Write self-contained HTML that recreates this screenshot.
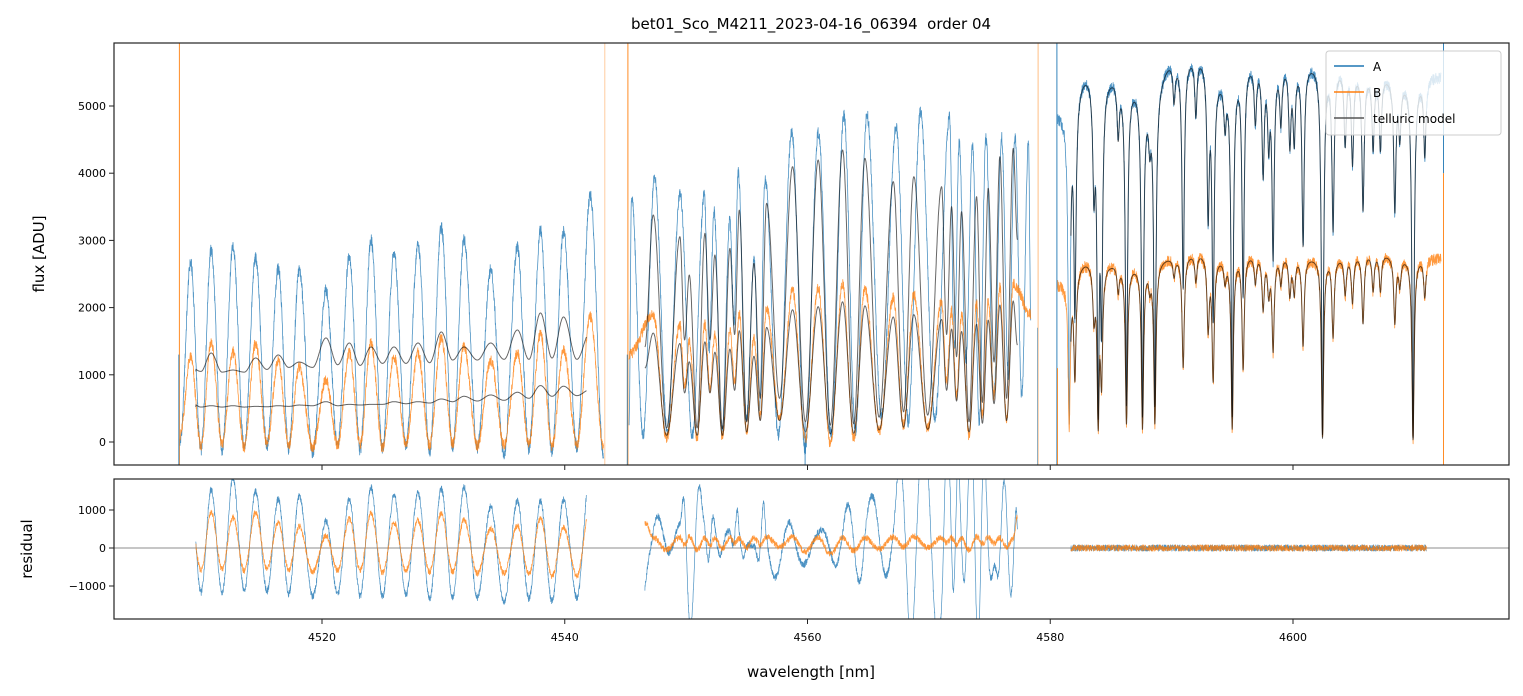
<!DOCTYPE html>
<html><head><meta charset="utf-8"><style>
html,body{margin:0;padding:0;background:#fff;}
svg{display:block;font-family:"DejaVu Sans","Liberation Sans",sans-serif;}
</style></head><body>
<svg id="chart" width="1523" height="696" viewBox="0 0 1523 696" xmlns="http://www.w3.org/2000/svg">
<defs>
<clipPath id="clipMain"><rect x="114" y="43" width="1395" height="422"/></clipPath>
<clipPath id="clipRes"><rect x="114" y="479" width="1395" height="140"/></clipPath>
</defs>
<rect width="1523" height="696" fill="#fff"/>
<text x="811" y="29" font-size="15" text-anchor="middle">bet01_Sco_M4211_2023-04-16_06394&#160; order 04</text>
<g id="mainPlot" clip-path="url(#clipMain)"></g>
<g id="resPlot" clip-path="url(#clipRes)"></g>
<g id="axes"></g>
<text transform="translate(44,254) rotate(-90)" font-size="15" text-anchor="middle">flux [ADU]</text>
<text transform="translate(32,549) rotate(-90)" font-size="15" text-anchor="middle">residual</text>
<text x="811" y="677" font-size="15" text-anchor="middle">wavelength [nm]</text>
<g>
<rect x="1326" y="51" width="175" height="84" rx="3" fill="#fff" fill-opacity="0.8" stroke="#ccc" stroke-width="1"/>
<g><line x1="1334" y1="66" x2="1364" y2="66" stroke="#1f77b4" stroke-width="1.5"/><text x="1373" y="71" font-size="12">A</text></g>
<g><line x1="1334" y1="92" x2="1364" y2="92" stroke="#ff7f0e" stroke-width="1.5"/><text x="1373" y="97" font-size="12">B</text></g>
<g><line x1="1334" y1="118" x2="1364" y2="118" stroke="#555" stroke-width="1.5"/><text x="1373" y="123" font-size="12">telluric model</text></g>
</g>
</svg>
<script>
// ---------- data ----------
const xTicks = [4520,4540,4560,4580,4600];
const yTicksMain = [0,1000,2000,3000,4000,5000];
const yTicksRes = [-1000,0,1000];
const yTickResLabels = ["\u22121000","0","1000"];
// segment 1
const s1Range = [4508.3, 4543.2];
const s1ModelRange = [4509.6, 4541.8];
const s1PeakW = [4509.18,4510.87,4512.66,4514.53,4516.4,4518.12,4520.33,4522.25,4524.04,4525.93,4527.91,4529.83,4531.7,4533.9,4536.1,4538.0,4539.9,4542.1];
const s1APeak = [2664,2857,2902,2738,2589,2560,2262,2783,3006,2813,2932,3199,3006,2560,2902,3155,3125,3676];
const s1ATrough = [0,-120,-150,-80,-60,-100,-160,-60,-120,-100,-50,-150,-100,-80,-200,-100,-150,-80,-200];
const s1BPeak = [1265,1473,1340,1473,1220,1116,923,1324,1473,1265,1324,1562,1414,1220,1324,1622,1369,1860];
const s1BTrough = [100,-60,-40,-80,-20,-60,-90,-50,-40,-80,-20,-50,-40,-60,-50,-30,-60,-50,-100];
const s1HiPeak = [1116,1324,1071,1250,1295,1190,1548,1473,1414,1414,1473,1637,1414,1473,1667,1920,1860,1637];
const s1HiTrough = [1050,1050,1040,1040,1080,1110,1110,1150,1140,1170,1170,1180,1220,1220,1230,1230,1250,1230,1300];
const s1LoPeak = [590,540,540,530,540,550,600,560,560,600,600,640,680,700,740,840,830,780,760];
const s1LoTrough = [520,520,520,520,525,530,540,540,550,560,570,580,600,610,620,650,680,690,700];
// segment 2
const s2Range = [4545.3, 4578.4];
const s2ModelRange = [4546.6, 4577.3];
const s2APeakW = [4545.5,4547.4,4549.5,4551.5,4552.3,4553.6,4554.3,4555.6,4556.5,4558.7,4560.9,4563.0,4564.9,4567.3,4569.3,4571.7,4572.5,4573.6,4574.7,4576.0,4577.1,4578.2];
const s2APeak = [3646,3943,3705,3676,3452,3304,4018,2708,3929,4613,4613,4866,4866,4688,4911,4836,4449,4390,4524,4524,4568,4449];
const s2ATrough = [300,100,150,100,1400,150,1800,300,500,100,-100,100,150,400,300,350,1400,1200,300,700,1000,700,1800];
const s2MPeakW = [4547.29,4549.49,4550.26,4551.55,4552.37,4553.61,4554.38,4555.59,4556.63,4558.77,4560.88,4562.89,4564.73,4567.07,4568.76,4571.05,4571.87,4572.69,4573.93,4574.89,4575.85,4576.95];
const s2HiPeak = [3378,3055,2485,3105,2783,2882,3452,2659,3552,4097,4196,4345,4221,3874,3948,3799,3502,3427,3650,3775,4246,4370];
const s2HiTrough = [1414,208,1518,208,1518,200,1600,300,650,650,300,250,270,370,450,400,1600,1270,300,590,1190,650,3006];
const s2LoPeak = [1621,1466,1193,1490,1336,1383,1657,1276,1705,1967,2014,2086,2026,1860,1895,1824,1681,1645,1752,1812,2038,2098];
const s2LoTrough = [1100,100,730,100,730,100,770,150,320,320,150,120,130,180,220,190,770,610,150,280,570,320,1440];
const s2BPeak = [1900,1750,1500,1750,1600,1650,1900,1550,2000,2250,2300,2350,2300,2150,2200,2100,1950,1900,2050,2100,2300,2350];
const s2BTrough = [1300,50,800,50,800,80,900,150,400,350,50,-50,50,150,250,200,900,700,100,400,700,350,1900];
// segment 3
const s3Range = [4580.6, 4612.2];
const s3ModelRange = [4581.7, 4611.0];
const s3ContW = [4580.79,4583.12,4585.05,4587.11,4588.07,4590.12,4592.18,4594.24,4596.44,4599.32,4601.52,4603.86,4606.6,4609.35,4612.1];
const s3ContA = [4900,5540,5490,5370,5220,5710,5790,5450,5690,5670,5670,5600,5500,5400,5450];
const s3ContB = [2370,2720,2690,2650,2690,2770,2840,2760,2820,2800,2770,2770,2840,2760,2740];
const s3LineW = [4581.56,4582.03,4583.95,4584.22,4586.28,4587.6,4588.62,4590.95,4593.01,4593.42,4594.99,4595.89,4597.54,4598.36,4599.74,4600.83,4602.43,4603.3,4605.77,4608.39,4609.89,4610.86,4583.6,4585.6,4588.2,4590.2,4592.0,4594.4,4596.9,4598.0,4599.0,4600.1,4604.3,4604.9,4606.6,4607.2,4608.8];
const s3LineDepth = [0.93,0.63,0.93,0.68,0.9,0.93,0.9,0.6,0.4,0.67,0.93,0.61,0.29,0.51,0.21,0.48,0.98,0.43,0.37,0.36,0.99,0.21,0.3,0.15,0.12,0.1,0.15,0.12,0.15,0.2,0.15,0.2,0.2,0.25,0.2,0.2,0.15];
// edge artifacts (vertical strokes)
const spikeW = [4508.25,4508.2,4543.3,4545.2,4545.15,4559.8,4579.0,4578.95,4580.55,4580.6,4612.4,4612.4];
const spikeFrom = [-400,-400,-400,-400,-400,-400,-400,-400,-400,-400,6000,-400];
const spikeTo = [6000,1300,6000,6000,1300,300,6000,1700,6000,1100,4000,4000];
const spikeSeries = ["B","A","B","B","A","A","B","A","A","B","A","B"];
const spikeAlpha = [0.9,0.8,0.4,0.9,0.8,0.8,0.5,0.5,0.9,0.8,0.9,0.9];
// ---------- scales ----------
const X = w => 322 + (w - 4520) * 12.1375;
const YM = v => 442 - v * 0.0672;
const YR = v => 548 - v * 0.038;
const COL = {A:"#1f77b4", B:"#ff7f0e", M:"#000"};
const NOISE_A = 90, NOISE_B = 80, NOISE_S3 = 85;
function jitter(i, seed){ const s = Math.sin(i*12.9898 + seed*78.233)*43758.5453; return (s - Math.floor(s))*2 - 1; }
function cosInterp(knW, knV, w){
  if (w <= knW[0]) return knV[0];
  for (let i=0;i<knW.length-1;i++){
    if (w <= knW[i+1]){ const t=(w-knW[i])/(knW[i+1]-knW[i]); return knV[i]+(knV[i+1]-knV[i])*(1-Math.cos(Math.PI*t))/2; }
  }
  return knV[knV.length-1];
}
function knots(peakW, peakV, troughV, start, end){
  const kw=[start], kv=[troughV[0]];
  for (let i=0;i<peakW.length;i++){
    kw.push(peakW[i]); kv.push(peakV[i]);
    const nxt = i<peakW.length-1 ? (peakW[i]+peakW[i+1])/2 : end;
    kw.push(nxt); kv.push(troughV[i+1]);
  }
  return [kw, kv];
}
function lineFactor(w){
  let f = 1;
  for (let i=0;i<s3LineW.length;i++){ const d=(w-s3LineW[i])/0.11; f *= 1 - s3LineDepth[i]/(1+d*d); }
  return f;
}
const STEP = 0.015;
const mainG = document.getElementById('mainPlot');
const resG = document.getElementById('resPlot');
const NS = "http://www.w3.org/2000/svg";
function addPath(g, pts, color, alpha, width, name){
  let d = "";
  pts.forEach((p,i)=>{ d += (i?"L":"M") + p[0].toFixed(1) + " " + p[1].toFixed(1); });
  const el = document.createElementNS(NS, "path");
  el.setAttribute("d", d); el.setAttribute("fill","none"); el.setAttribute("stroke", color);
  el.setAttribute("stroke-opacity", alpha); el.setAttribute("stroke-width", width); el.setAttribute("stroke-linejoin","round");
  
  
  g.appendChild(el);
}
function series(range, fn){ const out=[]; let i=0; for (let w=range[0]; w<=range[1]; w+=STEP, i++) out.push([w, fn(w,i)]); return out; }
const s1A = knots(s1PeakW, s1APeak, s1ATrough, s1Range[0], s1Range[1]);
const s1B = knots(s1PeakW, s1BPeak, s1BTrough, s1Range[0], s1Range[1]);
const s1H = knots(s1PeakW, s1HiPeak, s1HiTrough, s1ModelRange[0], s1ModelRange[1]);
const s1L = knots(s1PeakW, s1LoPeak, s1LoTrough, s1ModelRange[0], s1ModelRange[1]);
const s2A = knots(s2APeakW, s2APeak, s2ATrough, s2Range[0], s2Range[1]);
const s2B = knots(s2MPeakW, s2BPeak, s2BTrough, s2Range[0], s2Range[1]);
const s2H = knots(s2MPeakW, s2HiPeak, s2HiTrough, s2ModelRange[0], s2ModelRange[1]);
const s2L = knots(s2MPeakW, s2LoPeak, s2LoTrough, s2ModelRange[0], s2ModelRange[1]);
const segs = [
  {range:s1Range, mr:s1ModelRange, A:w=>cosInterp(s1A[0],s1A[1],w), B:w=>cosInterp(s1B[0],s1B[1],w), MA:w=>cosInterp(s1H[0],s1H[1],w), MB:w=>cosInterp(s1L[0],s1L[1],w), nA:NOISE_A, nB:NOISE_B},
  {range:s2Range, mr:s2ModelRange, A:w=>cosInterp(s2A[0],s2A[1],w), B:w=>cosInterp(s2B[0],s2B[1],w), MA:w=>cosInterp(s2H[0],s2H[1],w), MB:w=>cosInterp(s2L[0],s2L[1],w), nA:NOISE_A, nB:NOISE_B},
  {range:s3Range, mr:s3ModelRange, A:w=>cosInterp(s3ContW,s3ContA,w)*lineFactor(w), B:w=>cosInterp(s3ContW,s3ContB,w)*lineFactor(w), MA:w=>cosInterp(s3ContW,s3ContA,w)*lineFactor(w), MB:w=>cosInterp(s3ContW,s3ContB,w)*lineFactor(w), nA:NOISE_S3, nB:NOISE_S3}
];
segs.forEach((s,k)=>{
  const a = series(s.range,(w,i)=>s.A(w)+s.nA*jitter(i,k*3+1));
  const b = series(s.range,(w,i)=>s.B(w)+s.nB*jitter(i,k*3+2));
  addPath(mainG, a.map(p=>[X(p[0]),YM(p[1])]), COL.A, 0.8, 0.8, 'series-a-seg'+(k+1));
  addPath(mainG, b.map(p=>[X(p[0]),YM(p[1])]), COL.B, 0.8, 0.8, 'series-b-seg'+(k+1));
  const ma = series(s.mr,(w)=>s.MA(w)), mb = series(s.mr,(w)=>s.MB(w));
  addPath(mainG, ma.map(p=>[X(p[0]),YM(p[1])]), COL.M, 0.6, 1, 'telluric-model-a-seg'+(k+1));
  addPath(mainG, mb.map(p=>[X(p[0]),YM(p[1])]), COL.M, 0.6, 1, 'telluric-model-b-seg'+(k+1));
  const off = Math.round((s.mr[0]-s.range[0])/STEP);
  const ra = series(s.mr,(w,i)=>s.A(w)+s.nA*jitter(i+off,k*3+1)-s.MA(w));
  const rb = series(s.mr,(w,i)=>s.B(w)+s.nB*jitter(i+off,k*3+2)-s.MB(w));
  addPath(resG, ra.map(p=>[X(p[0]),YR(p[1])]), COL.A, 0.8, 0.7, 'residual-a-seg'+(k+1));
  addPath(resG, rb.map(p=>[X(p[0]),YR(p[1])]), COL.B, 0.8, 0.7, 'residual-b-seg'+(k+1));
});
spikeW.forEach((w,i)=>{
  addPath(mainG, [[X(w),YM(spikeFrom[i])],[X(w),YM(spikeTo[i])]], COL[spikeSeries[i]], spikeAlpha[i], 1, 'edge-spike');
});
const z = document.createElementNS(NS,"line");
z.setAttribute("x1",114); z.setAttribute("x2",1509); z.setAttribute("y1",YR(0)); z.setAttribute("y2",YR(0));
z.setAttribute("stroke","#666"); z.setAttribute("stroke-width","0.7");


resG.insertBefore(z, resG.firstChild);
const ax = document.getElementById('axes');
function mk(tag, attrs, text){ const e=document.createElementNS(NS,tag); for (const k in attrs) e.setAttribute(k,attrs[k]); if(text!==undefined) e.textContent=text; ax.appendChild(e); return e; }
const f1 = mk("rect",{x:114,y:43,width:1395,height:422,fill:"none",stroke:"#222","stroke-width":1.2});


const f2 = mk("rect",{x:114,y:479,width:1395,height:140,fill:"none",stroke:"#222","stroke-width":1.2});


xTicks.forEach(t=>{
  const x = X(t);
  const a = mk("line",{x1:x,x2:x,y1:465,y2:470,stroke:"#222","stroke-width":1});
  
  
  const b = mk("line",{x1:x,x2:x,y1:619,y2:624,stroke:"#222","stroke-width":1});
  
  
  const l = mk("text",{x:x,y:641,"font-size":11,"text-anchor":"middle"}, String(t));
  
  
});
yTicksMain.forEach(t=>{
  const y = YM(t);
  const a = mk("line",{x1:109,x2:114,y1:y,y2:y,stroke:"#222","stroke-width":1});
  
  
  const l = mk("text",{x:106,y:y+4,"font-size":11,"text-anchor":"end"}, String(t));
  
  
});
yTicksRes.forEach((t,i)=>{
  const y = YR(t);
  const a = mk("line",{x1:109,x2:114,y1:y,y2:y,stroke:"#222","stroke-width":1});
  
  
  const l = mk("text",{x:106,y:y+4,"font-size":11,"text-anchor":"end"}, yTickResLabels[i]);
  
  
});
</script>
</body></html>
